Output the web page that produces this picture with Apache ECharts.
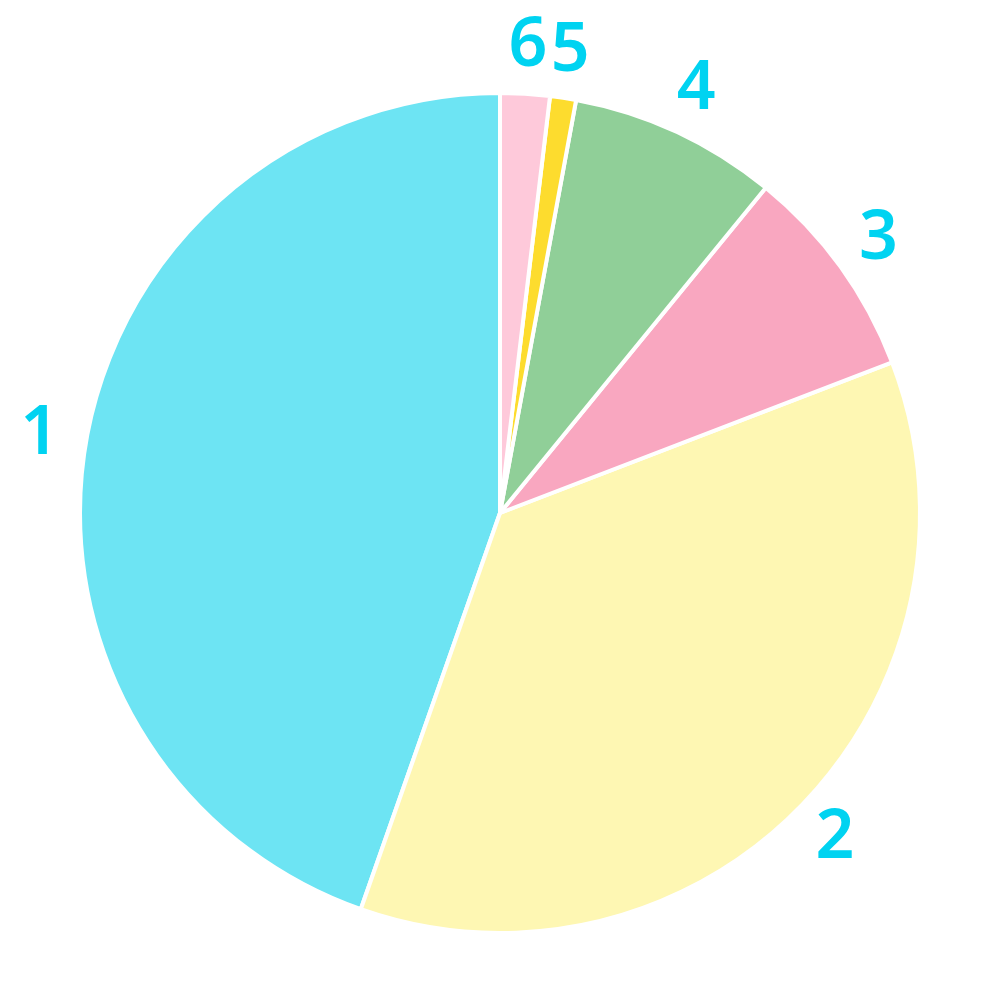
<!DOCTYPE html>
<html><head><meta charset="utf-8">
<script src="https://cdn.jsdelivr.net/npm/echarts@6/dist/echarts.min.js"></script>
<style>html,body{margin:0;padding:0;background:#fff}#c{width:984px;height:995px}</style>
</head><body><div id="c"></div>
<script>
const categories = ['1', '2', '3', '4', '5', '6'];
const values = [44.6, 36.2, 8.25, 8.0, 1.0, 1.9];
const colors = ['#6de4f3', '#fef7b3', '#f9a7c0', '#90cf98', '#fddc2e', '#fec9da'];

const chart = echarts.init(document.getElementById('c'));
const data = categories.map((c, i) => ({ name: c, value: values[i], itemStyle: { color: colors[i] } }));
chart.setOption({
  animation: false,
  series: [
    {
      type: 'pie',
      center: [500, 513],
      radius: [0, 420],
      startAngle: 90,
      clockwise: false,
      data: data,
      itemStyle: { borderColor: '#ffffff', borderWidth: 4 },
      label: { show: false },
      labelLine: { show: false },
      silent: true
    },
    {
      type: 'pie',
      center: [500, 513],
      radius: [440, 488],
      startAngle: 90,
      clockwise: false,
      data: categories.map((c, i) => ({ name: c, value: values[i] })),
      itemStyle: { color: 'rgba(0,0,0,0)' },
      label: {
        show: true, position: 'inside', formatter: '{b}',
        color: '#00d3f1', fontSize: 68, fontWeight: 600, fontFamily: 'Noto Sans'
      },
      labelLine: { show: false },
      silent: true
    }
  ]
});
</script></body></html>
